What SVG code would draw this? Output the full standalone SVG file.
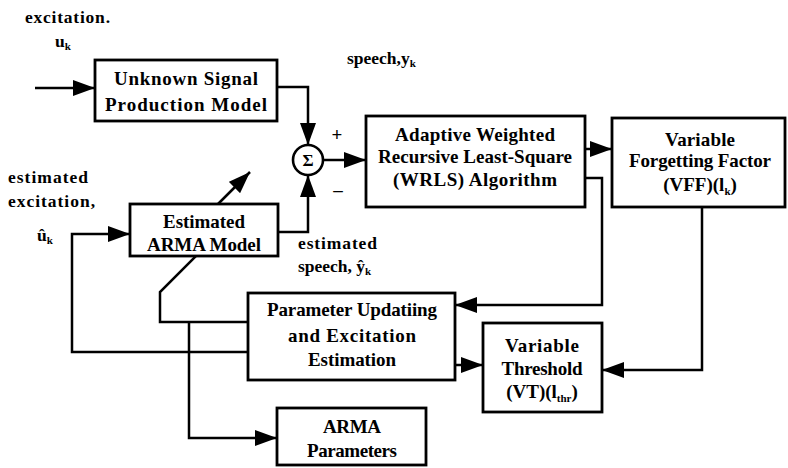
<svg xmlns="http://www.w3.org/2000/svg" width="788" height="468" viewBox="0 0 788 468">
<defs>
<marker id="ah" markerUnits="userSpaceOnUse" markerWidth="22" markerHeight="16" refX="22" refY="8" orient="auto" viewBox="0 0 22 16"><path d="M0,0 L22,8 L0,16 z" fill="#000"/></marker>
</defs>
<style>
.box{fill:#fff;stroke:#000;stroke-width:2.8}
.ln{fill:none;stroke:#000;stroke-width:2.5}
.t{font-family:"Liberation Serif","Times New Roman",serif;font-weight:bold;font-size:19px;fill:#000;text-anchor:middle}
.l{font-family:"Liberation Serif","Times New Roman",serif;font-weight:bold;font-size:17.5px;fill:#000}
.s{font-size:11px}
</style>
<rect width="788" height="468" fill="#fff"/>
<g id="connectors">
<path class="ln" d="M35,88 L95,88" marker-end="url(#ah)"/>
<path class="ln" d="M277,87 L308,87 L308,145" marker-end="url(#ah)"/>
<path class="ln" d="M323,160 L366,160" marker-end="url(#ah)"/>
<path class="ln" d="M278,232 L308,232 L308,175" marker-end="url(#ah)"/>
<path class="ln" d="M585,149 L612,149" marker-end="url(#ah)"/>
<path class="ln" d="M585,178 L602,178 L602,305 L455,305" marker-end="url(#ah)"/>
<path class="ln" d="M702,207 L702,370 L602,370" marker-end="url(#ah)"/>
<path class="ln" d="M455,365 L483,365" marker-end="url(#ah)"/>
<path class="ln" d="M248,352 L72,352 L72,234 L130,234" marker-end="url(#ah)"/>
<path class="ln" d="M248,322 L160,322 L160,292 L200,252"/>
<path class="ln" d="M215,207 L250,172" marker-end="url(#ah)"/>
<path class="ln" d="M189,322 L189,438 L277,438" marker-end="url(#ah)"/>
</g>
<g id="unknown">
<rect class="box" x="95" y="60" width="182" height="61"/>
<text class="t" x="186" y="85" textLength="144">Unknown Signal</text>
<text class="t" x="186" y="111" textLength="162">Production Model</text>
</g>
<g id="sum">
<circle cx="308" cy="160" r="15" fill="#fff" stroke="#000" stroke-width="2.6"/>
<text class="t" x="308" y="166" style="font-size:17px">Σ</text>
<text class="t" x="337" y="141">+</text>
<text class="t" x="338" y="196">–</text>
</g>
<g id="estarma">
<rect class="box" x="130" y="204" width="148" height="52"/>
<text class="t" x="204" y="228" textLength="82">Estimated</text>
<text class="t" x="204" y="251" textLength="114">ARMA Model</text>
</g>
<g id="wrls">
<rect class="box" x="366" y="116" width="219" height="91"/>
<text class="t" x="475" y="141" textLength="160">Adaptive Weighted</text>
<text class="t" x="475" y="163" textLength="194">Recursive Least-Square</text>
<text class="t" x="475" y="186" textLength="164">(WRLS) Algorithm</text>
</g>
<g id="vff">
<rect class="box" x="612" y="118" width="173" height="89"/>
<text class="t" x="700" y="146" textLength="70">Variable</text>
<text class="t" x="700" y="167" textLength="142">Forgetting Factor</text>
<text class="t" x="700" y="191">(VFF)(l<tspan class="s" dy="4">k</tspan><tspan dy="-4">)</tspan></text>
</g>
<g id="param">
<rect class="box" x="248" y="293" width="207" height="87"/>
<text class="t" x="352" y="316" textLength="170">Parameter Updatiing</text>
<text class="t" x="352" y="342" textLength="128">and Excitation</text>
<text class="t" x="352" y="366" textLength="88">Estimation</text>
</g>
<g id="vt">
<rect class="box" x="483" y="323" width="119" height="89"/>
<text class="t" x="542" y="352" textLength="74">Variable</text>
<text class="t" x="542" y="375" textLength="81">Threshold</text>
<text class="t" x="542" y="398">(VT)(l<tspan class="s" dy="4">thr</tspan><tspan dy="-4">)</tspan></text>
</g>
<g id="armaparams">
<rect class="box" x="277" y="408" width="149" height="57"/>
<text class="t" x="352" y="433" textLength="58">ARMA</text>
<text class="t" x="352" y="457" textLength="90">Parameters</text>
</g>
<g id="labels">
<text class="l" x="25" y="23" textLength="85">excitation.</text>
<text class="l" x="55" y="47">u<tspan class="s" dy="3">k</tspan></text>
<text class="l" x="347" y="64">speech,y<tspan class="s" dy="3">k</tspan></text>
<text class="l" x="8" y="183" textLength="80">estimated</text>
<text class="l" x="8" y="207" textLength="87">excitation,</text>
<text class="l" x="37" y="241">û<tspan class="s" dy="3">k</tspan></text>
<text class="l" x="298" y="249" textLength="79">estimated</text>
<text class="l" x="298" y="272">speech, ŷ<tspan class="s" dy="3">k</tspan></text>
</g>
</svg>
